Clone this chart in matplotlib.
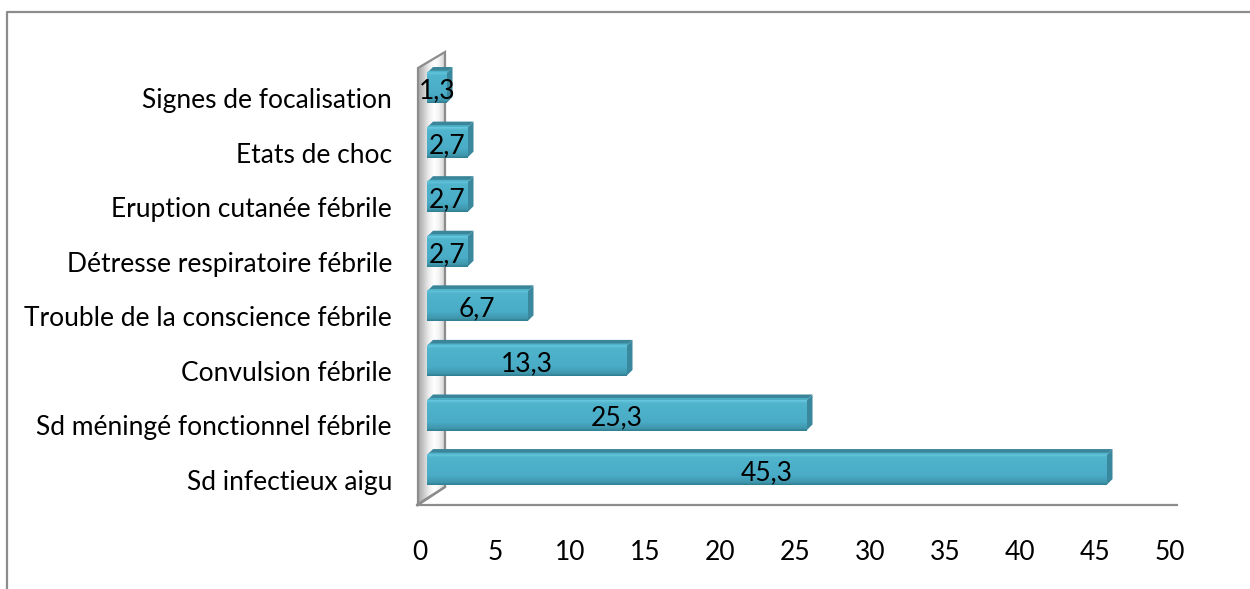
import numpy as np
import matplotlib.pyplot as plt
import matplotlib.transforms as mtransforms
from matplotlib.patches import Polygon
from matplotlib.lines import Line2D
from matplotlib.colors import LinearSegmentedColormap

# Data (bottom to top, as drawn)
categories = ['Sd infectieux aigu', 'Sd méningé fonctionnel fébrile', 'Convulsion fébrile',
              'Trouble de la conscience fébrile', 'Détresse respiratoire fébrile',
              'Eruption cutanée fébrile', 'Etats de choc', 'Signes de focalisation']
values = [45.3, 25.3, 13.3, 6.7, 2.7, 2.7, 2.7, 1.3]
x_ticks = [0, 5, 10, 15, 20, 25, 30, 35, 40, 45, 50]

plt.rcParams['font.family'] = ['Lato', 'DejaVu Sans']
FS = 19

W, H = 1250, 589
fig = plt.figure(figsize=(W / 100, H / 100), dpi=100)
ax = fig.add_axes([417 / W, 1 - 505 / H, 760 / W, 453 / H])
ax.set_xlim(-10 / 15, 50)
ax.set_ylim(-0.64, 7.66)
ax.patch.set_visible(False)


def to_data(xp, yp):
    # pixel position (origin top-left) -> data coords
    return ax.transData.inverted().transform((xp, H - yp))


# outer frame of the chart area (cut at right and bottom)
fig.add_artist(Line2D([7 / W, 7 / W, 1], [0, 1 - 12 / H, 1 - 12 / H],
                      color='#8c8c8c', lw=1.6, transform=fig.transFigure))

# back wall on the left
wall_px = [(418, 505), (418, 68), (445, 52), (445, 487)]
wall = Polygon([to_data(*p) for p in wall_px], closed=True, facecolor='none',
               edgecolor='none', clip_on=False, zorder=1)
ax.add_patch(wall)
wall_cmap = LinearSegmentedColormap.from_list(
    'wall', ['#a6a6a6', '#c8c8c8', '#ececec', '#ffffff', '#f2f2f2', '#cfcfcf'])
(wx0, wy0), (wx1, wy1) = to_data(418, 505), to_data(445, 52)
ax.imshow(np.linspace(0, 1, 64)[None, :], cmap=wall_cmap, extent=[wx0, wx1, wy0, wy1],
          aspect='auto', clip_path=wall, zorder=0.5, interpolation='bilinear')
ax.add_patch(Polygon([to_data(*p) for p in wall_px], closed=True, facecolor='none',
                     edgecolor='#8c8c8c', lw=1.6, clip_on=False, zorder=1.2))

# floor front edge + slanted left edge
ax.spines[['left', 'top', 'right']].set_visible(False)
ax.spines['bottom'].set_color('#8c8c8c')
ax.spines['bottom'].set_linewidth(1.6)
f0, f1 = to_data(418, 504), to_data(445, 487)
ax.plot([f0[0], f1[0]], [f0[1], f1[1]], color='#8c8c8c', lw=1.6, clip_on=False, zorder=1.2)

# 3D-looking bars
pos = np.arange(len(categories))
bar_h = 0.55
dx = 6 / 15.0
dy = 6 * 8.3 / 453

front_cmap = LinearSegmentedColormap.from_list(
    'front', [(0, '#2f7d90'), (0.08, '#3f97ad'), (0.3, '#4aacc6'),
              (0.9, '#50b4cd'), (1.0, '#68c9df')])
bars = ax.barh(pos, values, height=bar_h, color='#4BACC6', edgecolor='none', zorder=3)
for rect, v in zip(bars, values):
    x0, y0 = rect.get_x(), rect.get_y()
    x1, y1 = x0 + rect.get_width(), y0 + rect.get_height()
    ax.imshow(np.linspace(0, 1, 64)[:, None], cmap=front_cmap, origin='lower',
              extent=[x0, x1, y0, y1], aspect='auto', clip_path=rect,
              zorder=3.1, interpolation='bilinear')
    top = Polygon([(x0, y1), (x1, y1), (x1 + dx, y1 + dy), (x0 + dx, y1 + dy)],
                  closed=True, facecolor='#3a8599', edgecolor='none', zorder=3)
    ax.add_patch(top)
    ax.add_patch(Polygon([(x0 + dx * 0.1, y1 + dy * 0.1), (x1 + dx * 0.1, y1 + dy * 0.1),
                          (x1 + dx * 0.4, y1 + dy * 0.4), (x0 + dx * 0.4, y1 + dy * 0.4)],
                         closed=True, facecolor='#4fb3ca', edgecolor='none', zorder=3.2))
    side = Polygon([(x1, y0), (x1 + dx, y0 + dy), (x1 + dx, y1 + dy), (x1, y1)],
                   closed=True, facecolor='#3a889d', edgecolor='none', zorder=3)
    ax.add_patch(side)
    ax.text(v / 2, rect.get_y() + bar_h / 2 - 0.05, f'{v:.1f}'.replace('.', ','),
            ha='center', va='center', fontsize=FS, color='black', zorder=5)

# ticks and labels
ax.set_yticks(pos)
ax.set_yticklabels(categories, fontsize=FS)
ax.tick_params(axis='y', length=0, pad=18)
down = mtransforms.ScaledTranslation(0, -10 / 100, fig.dpi_scale_trans)
for lab in ax.get_yticklabels():
    lab.set_transform(lab.get_transform() + down)

ax.set_xticks(x_ticks)
ax.set_xticklabels([str(t) for t in x_ticks], fontsize=FS)
ax.tick_params(axis='x', length=0, pad=25)
left = mtransforms.ScaledTranslation(-7 / 100, 0, fig.dpi_scale_trans)
for lab in ax.get_xticklabels():
    lab.set_transform(lab.get_transform() + left)

ax.set_xlim(-10 / 15, 50)
ax.set_ylim(-0.64, 7.66)

fig.savefig('out.png', dpi=100)
